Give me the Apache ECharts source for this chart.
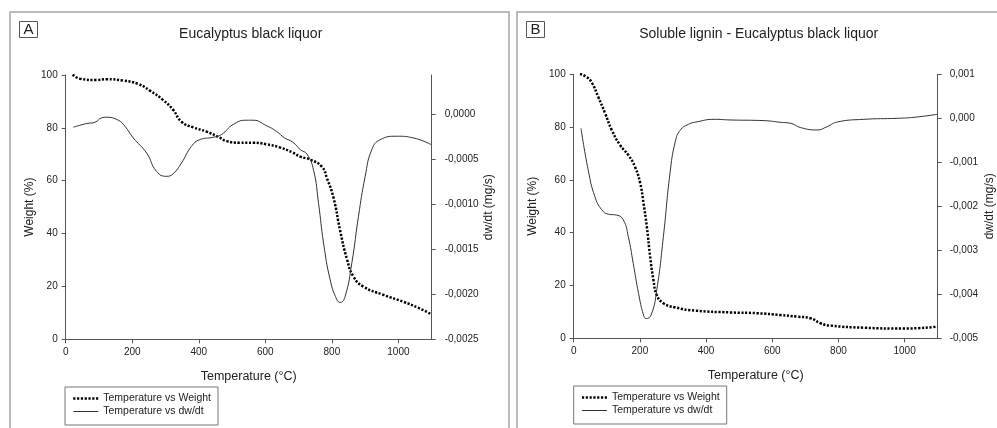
<!DOCTYPE html>
<html><head><meta charset="utf-8">
<script src="https://cdn.jsdelivr.net/npm/echarts@6/dist/echarts.min.js"></script>
<style>html,body{margin:0;padding:0;background:#fff}#c{width:997px;height:428px}</style>
</head><body><div id="c"></div>
<script>
// Panel A: Eucalyptus black liquor
const tempAW = [21,43,93,123,173,218,253,293,323,348,383,423,463,483,523,563,603,643,683,705,733,770,785,805,825,845,865,895,955,1015,1060,1098];
const weightA = [100.1,98.6,98.1,98.4,97.9,96.6,94.1,90.5,86.8,82.3,80.2,78.6,76.3,75.0,74.4,74.4,73.8,72.6,70.6,69.1,68.1,65.3,61,53.5,41,30.5,23.7,19.9,16.8,14.2,11.9,9.5];
const tempAD = [23,63,88,108,123,158,178,203,243,273,303,323,348,378,403,443,468,503,543,563,603,633,658,683,705,725,745,760,775,795,815,825,840,860,880,900,920,945,995,1045,1098];
const dwdtA = [-0.000141,-0.0001,-0.000086,-0.000037,-0.00003,-0.000063,-0.00013,-0.00026,-0.000427,-0.000632,-0.000687,-0.000658,-0.000539,-0.000353,-0.000279,-0.000253,-0.000223,-0.000111,-0.000063,-0.000063,-0.000123,-0.000186,-0.00026,-0.000308,-0.00039,-0.00044,-0.00062,-0.00099,-0.00143,-0.00184,-0.00206,-0.00209,-0.00202,-0.00165,-0.00113,-0.00069,-0.00039,-0.00028,-0.000241,-0.00026,-0.000334];
// Panel B: Soluble lignin - Eucalyptus black liquor
const tempBW = [19,40,55,74,95,115,140,165,185,201,211,221,231,241,251,271,307,367,474,555,625,676,716,746,777,877,998,1099];
const weightB = [100.1,98.9,96.8,91.5,85.2,78.9,73.2,69.4,65.0,58.7,51.1,42.3,30.9,22.1,16.4,13.3,11.7,10.5,9.8,9.5,8.8,8.2,7.6,5.7,4.8,4.0,3.7,4.4];
const tempBD = [22,44,64,85,105,130,150,165,180,196,211,219,234,251,271,291,307,322,347,373,424,474,575,625,656,686,736,766,797,877,978,1029,1099];
const dwdtB = [-0.000227,-0.00118,-0.00178,-0.00208,-0.00218,-0.0022,-0.00231,-0.00269,-0.0033,-0.00398,-0.00447,-0.00455,-0.00447,-0.0039,-0.00269,-0.00125,-0.00053,-0.00027,-0.000136,-0.00008,-0.000023,-0.000038,-0.000053,-0.000091,-0.000114,-0.000212,-0.000265,-0.000189,-0.000083,-0.000023,0,0.000023,0.000091];
const xTicks = [0,200,400,600,800,1000];
const wTicks = [0,20,40,60,80,100];
const dTicksA = [-0.0025,-0.002,-0.0015,-0.001,-0.0005,0];
const dTicksB = [-0.005,-0.004,-0.003,-0.002,-0.001,0,0.001];
const titles = ['Eucalyptus black liquor','Soluble lignin - Eucalyptus black liquor'];
const seriesNames = ['Temperature vs Weight','Temperature vs dw/dt'];

const zip = (xs, ys) => xs.map((x, i) => [x, ys[i]]);
const FONT = 'Liberation Sans, Arial, sans-serif';
const TXT = '#222';
const AX = '#555';
const DOT_STYLE = {color:'#000', width:2.5, type:[2.2,1.6], cap:'butt'};
const SOLID_STYLE = {color:'#333', width:1};

function xAxis(gi){
  return {type:'value', gridIndex:gi, min:0, max:1100, interval:200,
    name:'Temperature (°C)', nameLocation:'middle', nameGap:31,
    nameTextStyle:{fontSize:12.5, color:TXT, fontFamily:FONT},
    axisLine:{lineStyle:{color:AX}}, splitLine:{show:false},
    axisTick:{length:4, lineStyle:{color:AX}, customValues:xTicks},
    axisLabel:{margin:8, fontSize:10, color:TXT, fontFamily:FONT, customValues:xTicks, formatter: v => String(v)}};
}
function leftAxis(gi, gap){
  return {type:'value', gridIndex:gi, position:'left', min:0, max:100, interval:20,
    name:'Weight (%)', nameLocation:'middle', nameGap:gap, nameRotate:90,
    nameTextStyle:{fontSize:12, color:TXT, fontFamily:FONT},
    axisLine:{show:true, lineStyle:{color:AX}}, splitLine:{show:false},
    axisTick:{show:true, length:4, lineStyle:{color:AX}, customValues:wTicks},
    axisLabel:{margin:8, fontSize:10, color:TXT, fontFamily:FONT, customValues:wTicks, formatter: v => String(v)}};
}
function rightAxis(gi, min, max, ticks, dec, gap, margin){
  return {type:'value', gridIndex:gi, position:'right', min:min, max:max,
    name:'dw/dt (mg/s)', nameLocation:'middle', nameGap:gap, nameRotate:90,
    nameTextStyle:{fontSize:12, color:TXT, fontFamily:FONT},
    axisLine:{show:true, lineStyle:{color:AX}}, splitLine:{show:false},
    axisTick:{show:true, length:4, lineStyle:{color:AX}, customValues:ticks},
    axisLabel:{margin:margin, fontSize:10, color:TXT, fontFamily:FONT, customValues:ticks,
      formatter: v => (Math.abs(v) < 1e-12 ? 0 : v).toFixed(dec).replace('.', ',')}};
}
function dotted(xi, yi, data){
  return {name:seriesNames[0], type:'line', xAxisIndex:xi, yAxisIndex:yi, data:data,
    symbol:'none', showSymbol:false, smooth:0.5,
    lineStyle:DOT_STYLE, itemStyle:{color:'#000'}};
}
function solid(xi, yi, data){
  return {name:seriesNames[1], type:'line', xAxisIndex:xi, yAxisIndex:yi, data:data,
    symbol:'none', showSymbol:false, smooth:0.5,
    lineStyle:SOLID_STYLE, itemStyle:{color:'#333'}};
}
function legend(left, top){
  return {orient:'vertical', left:left, top:top, itemWidth:25, itemHeight:11, itemGap:2,
    padding:[6,7,8,7], borderColor:'#777', borderWidth:1, selectedMode:false,
    data:[
      {name:seriesNames[0], lineStyle:DOT_STYLE},
      {name:seriesNames[1], lineStyle:{color:'#333', width:1}}
    ],
    itemStyle:{opacity:0, borderWidth:0},
    textStyle:{fontSize:10.5, color:TXT, fontFamily:FONT}};
}

const chart = echarts.init(document.getElementById('c'), null, {renderer:'canvas'});
chart.setOption({
  backgroundColor:'#fff',
  animation:false,
  title:[
    {text:titles[0], left:245.7, top:22, textAlign:'center', textStyle:{fontSize:14, fontWeight:'normal', color:TXT, fontFamily:FONT}},
    {text:titles[1], left:753.7, top:22, textAlign:'center', textStyle:{fontSize:14, fontWeight:'normal', color:TXT, fontFamily:FONT}}
  ],
  grid:[
    {left:65.7, top:75, width:366, height:264.3},
    {left:573.7, top:74.3, width:364, height:264}
  ],
  xAxis:[xAxis(0), xAxis(1)],
  yAxis:[
    leftAxis(0, 30),
    rightAxis(0, -0.0025, 0.00044, dTicksA, 4, 50, 13),
    leftAxis(1, 35),
    rightAxis(1, -0.005, 0.001, dTicksB, 3, 46, 12)
  ],
  legend:[legend(65, 387), legend(573.7, 386)],
  series:[
    dotted(0, 0, zip(tempAW, weightA)),
    solid(0, 1, zip(tempAD, dwdtA)),
    dotted(1, 2, zip(tempBW, weightB)),
    solid(1, 3, zip(tempBD, dwdtB))
  ],
  graphic:[
    {type:'rect', shape:{x:10, y:12, width:499, height:430}, style:{fill:null, stroke:'#bbb', lineWidth:2}, silent:true},
    {type:'rect', shape:{x:517, y:12, width:490, height:430}, style:{fill:null, stroke:'#bbb', lineWidth:2}, silent:true},
    {type:'rect', shape:{x:19.5, y:21.5, width:18, height:16}, style:{fill:null, stroke:'#555', lineWidth:1}, silent:true},
    {type:'text', x:28.5, y:29.5, style:{text:'A', fontSize:15, fill:TXT, fontFamily:FONT, align:'center', verticalAlign:'middle'}, silent:true},
    {type:'rect', shape:{x:526.5, y:21.5, width:18, height:16}, style:{fill:null, stroke:'#555', lineWidth:1}, silent:true},
    {type:'text', x:535.5, y:29.5, style:{text:'B', fontSize:15, fill:TXT, fontFamily:FONT, align:'center', verticalAlign:'middle'}, silent:true}
  ]
});
</script></body></html>
